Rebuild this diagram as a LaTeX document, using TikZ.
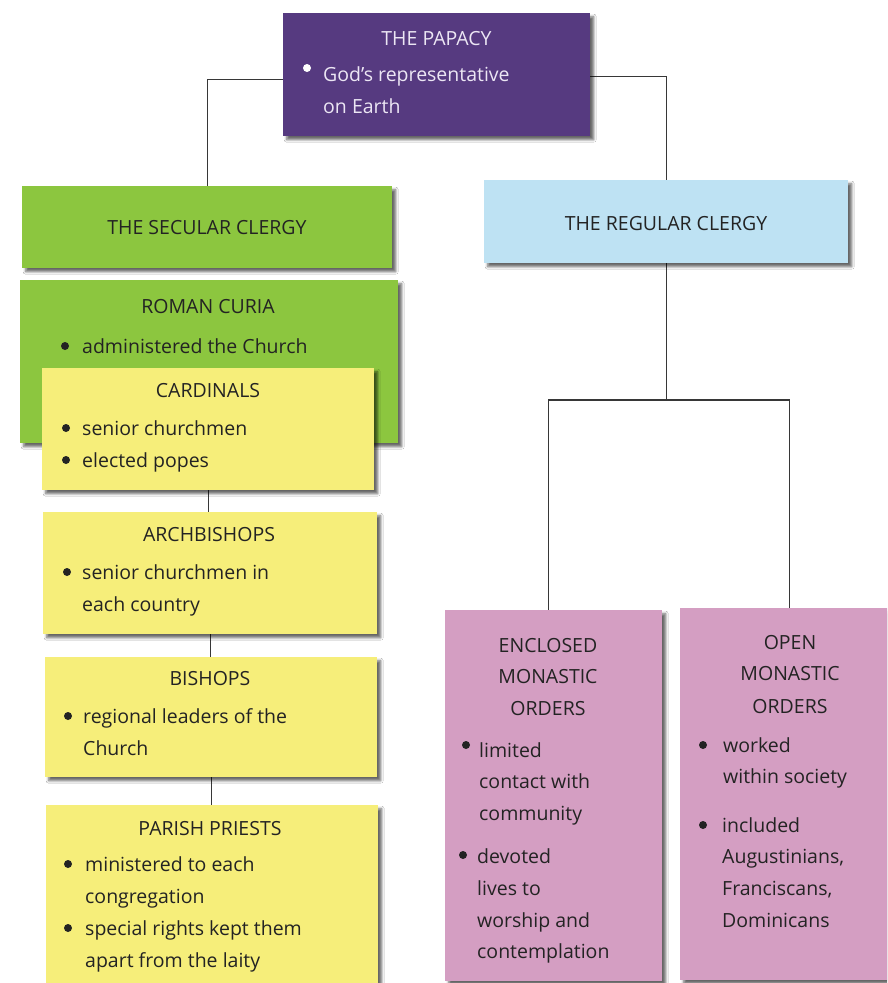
\documentclass[tikz,border=0pt]{standalone}
\usepackage{fontspec}
\setmainfont{Open Sans}
\usetikzlibrary{shadows.blur,backgrounds}
\definecolor{papal}{RGB}{86,58,128}
\definecolor{papaltext}{RGB}{236,230,244}
\definecolor{secgreen}{RGB}{140,198,63}
\definecolor{noteyellow}{RGB}{246,238,122}
\definecolor{regblue}{RGB}{190,226,243}
\definecolor{orderpink}{RGB}{212,158,194}
\definecolor{inktext}{RGB}{35,35,35}
\definecolor{connline}{RGB}{55,55,55}
\tikzset{
  box/.style={rectangle, draw=none, inner sep=0pt, anchor=north west,
    blur shadow={shadow xshift=3.5pt, shadow yshift=-3.5pt, shadow blur radius=2.5pt, shadow opacity=60}},
  ttl/.style={anchor=base, inner sep=0pt, font=\fontsize{19.5}{24}\selectfont, text=inktext},
  txt/.style={anchor=base west, inner sep=0pt, font=\fontsize{19.5}{24}\selectfont, text=inktext},
  conn/.style={draw=connline, line width=1.2pt},
  bul/.style={fill=inktext}
}
\newcommand\mybul[3][bul]{\fill[#1] (#2,#3) circle[radius=4pt];}
\begin{document}
\begin{tikzpicture}[x=1pt,y=-1pt]
\useasboundingbox (0,0) rectangle (887,983);
\clip (0,0) rectangle (887,983);
% boxes
\node[box, fill=papal, minimum width=307pt, minimum height=123pt] (papacy) at (283,13) {};
\node[box, fill=secgreen, minimum width=370pt, minimum height=82pt] (secular) at (22,186) {};
\node[box, fill=regblue, minimum width=364pt, minimum height=83pt] (regular) at (484,180) {};
\node[box, fill=secgreen, minimum width=378pt, minimum height=163pt] (curia) at (20,280) {};
\node[box, fill=noteyellow, minimum width=332pt, minimum height=122pt] (cardinals) at (42,368) {};
\node[box, fill=noteyellow, minimum width=334pt, minimum height=122pt] (arch) at (43,512) {};
\node[box, fill=noteyellow, minimum width=332pt, minimum height=120pt] (bishops) at (45,657) {};
\node[box, fill=noteyellow, minimum width=332pt, minimum height=200pt] (parish) at (46,805) {};
\node[box, fill=orderpink, minimum width=217pt, minimum height=371pt] (enclosed) at (445,610) {};
\node[box, fill=orderpink, minimum width=230pt, minimum height=372pt] (open) at (680,608) {};
\coordinate (split) at (667,400);
% connectors
\begin{scope}[on background layer]
\fill[white] (0,0) rectangle (887,983);
\draw[conn] ([yshift=-4.5pt]papacy.west) -| (secular.north);
\draw[conn] ([yshift=-1.5pt]papacy.east) -| (regular.north);
\draw[conn] (cardinals.south) -- (cardinals.south |- arch.north);
\draw[conn] (arch.south) -- (arch.south |- bishops.north);
\draw[conn] (bishops.south) -- (bishops.south |- parish.north);
\draw[conn] (regular.south) -- (regular.south |- split);
\draw[conn] ([xshift=-5pt]enclosed.north) |- ([xshift=-6pt]open.north |- split) -- ([xshift=-6pt]open.north);
\end{scope}
% papacy text
\node[ttl, text=papaltext] (t1) at (436.5,45) {THE PAPACY};
\mybul[fill=white]{307}{68}
\node[txt, text=papaltext] (t2) at (323,81) {God’s representative};
\node[txt, text=papaltext] (t3) at (323,113) {on Earth};
% secular / regular
\node[ttl] (t4) at (207,234) {THE SECULAR CLERGY};
\node[ttl] (t5) at (666,230) {THE REGULAR CLERGY};
% curia
\node[ttl] (t6) at (208,313) {ROMAN CURIA};
\mybul{65}{346}
\node[txt] (t7) at (82,353) {administered the Church};
% cardinals
\node[ttl] (t8) at (208,397) {CARDINALS};
\mybul{66}{428}
\node[txt] (t9) at (82,435) {senior churchmen};
\mybul{66}{460}
\node[txt] (t10) at (82,467) {elected popes};
% archbishops
\node[ttl] (t11) at (209,541) {ARCHBISHOPS};
\mybul{67}{572}
\node[txt] (t12) at (82,579) {senior churchmen in};
\node[txt] (t13) at (82,611) {each country};
% bishops
\node[ttl] (t14) at (210,685) {BISHOPS};
\mybul{68}{716}
\node[txt] (t15) at (83,723) {regional leaders of the};
\node[txt] (t16) at (83,755) {Church};
% parish priests
\node[ttl] (t17) at (210,835) {PARISH PRIESTS};
\mybul{68}{864}
\node[txt] (t18) at (85,871) {ministered to each};
\node[txt] (t19) at (85,903) {congregation};
\mybul{68}{928}
\node[txt] (t20) at (85,935) {special rights kept them};
\node[txt] (t21) at (85,967) {apart from the laity};
% enclosed
\node[ttl] (t22) at (548,652) {ENCLOSED};
\node[ttl] (t23) at (548,683) {MONASTIC};
\node[ttl] (t24) at (548,715) {ORDERS};
\mybul{466}{745}
\node[txt] (t25) at (479,757) {limited};
\node[txt] (t26) at (479,788) {contact with};
\node[txt] (t27) at (479,820) {community};
\mybul{463}{855}
\node[txt] (t28) at (477,863) {devoted};
\node[txt] (t29) at (477,895) {lives to};
\node[txt] (t30) at (477,927) {worship and};
\node[txt] (t31) at (477,958) {contemplation};
% open
\node[ttl] (t32) at (790,649) {OPEN};
\node[ttl] (t33) at (790,680) {MONASTIC};
\node[ttl] (t34) at (790,713) {ORDERS};
\mybul{703}{745}
\node[txt] (t35) at (723,752) {worked};
\node[txt] (t36) at (723,783) {within society};
\mybul{703}{825}
\node[txt] (t37) at (722,832) {included};
\node[txt] (t38) at (722,863) {Augustinians,};
\node[txt] (t39) at (722,895) {Franciscans,};
\node[txt] (t40) at (722,927) {Dominicans};
\end{tikzpicture}
\end{document}
